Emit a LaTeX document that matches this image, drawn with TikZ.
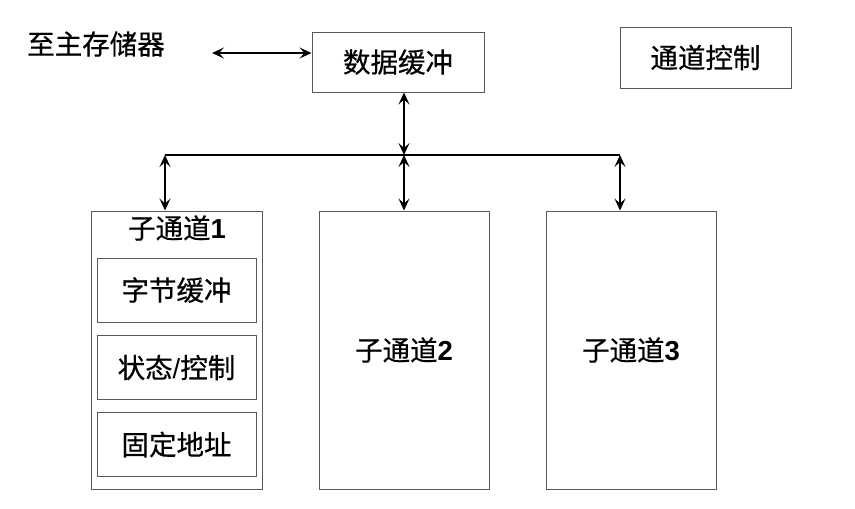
\documentclass[tikz,border=0pt]{standalone}
\usepackage{fontspec}
\setmainfont{Noto Sans CJK SC}[FakeBold=0.5,BoldFont={Noto Sans CJK SC}]
\newfontfamily\latf{Liberation Sans}
\usetikzlibrary{arrows.meta}
\begin{document}
\begin{tikzpicture}[x=1pt,y=-1pt,
  box/.style={draw=black!65,line width=1pt,rectangle,inner sep=0pt,font=\fontsize{27.5}{32}\selectfont},
  lbl/.style={inner sep=0pt,font=\fontsize{27.5}{32}\selectfont},
  conn/.style={line width=1.5pt,{Stealth[length=12pt,width=11pt,inset=5pt]}-{Stealth[length=12pt,width=11pt,inset=5pt]}},
  bus/.style={line width=2.4pt}]
\useasboundingbox (0,0) rectangle (855,509);
\node[lbl] (mem) at (96,44) {至主存储器};
\node[box,minimum width=172pt,minimum height=60pt] (buf) at (398,62) {数据缓冲};
\node[box,minimum width=171pt,minimum height=61pt] (ctrl) at (705.5,57.5) {通道控制};
\node[box,minimum width=171pt,minimum height=278pt] (sub1) at (176.5,350) {};
\node[box,minimum width=170pt,minimum height=278pt] (sub2) at (404,350) {子通道{\latf\bfseries 2}};
\node[box,minimum width=170pt,minimum height=278pt] (sub3) at (631,350) {子通道{\latf\bfseries 3}};
\node[lbl] (sub1t) at (177,228) {子通道{\latf\bfseries 1}};
\node[box,minimum width=159pt,minimum height=64pt] (b1) at (176.5,290) {字节缓冲};
\node[box,minimum width=159pt,minimum height=64pt] (b2) at (176.5,367.5) {状态{\latf /}控制};
\node[box,minimum width=159pt,minimum height=64pt] (b3) at (176.5,444.5) {固定地址};
\coordinate (m) at (212,53);
\coordinate (busL) at (165,155);
\coordinate (busM) at (404,155);
\coordinate (busR) at (620,155);
\draw[conn] (m) -- (m -| buf.west);
\draw[bus] (busL) -- (busR);
\draw[conn] (busM |- buf.south) -- (busM);
\draw[conn] (busM) -- (sub2.north);
\draw[conn] (busL) -- (busL |- sub1.north);
\draw[conn] (busR) -- (busR |- sub3.north);
\end{tikzpicture}
\end{document}
